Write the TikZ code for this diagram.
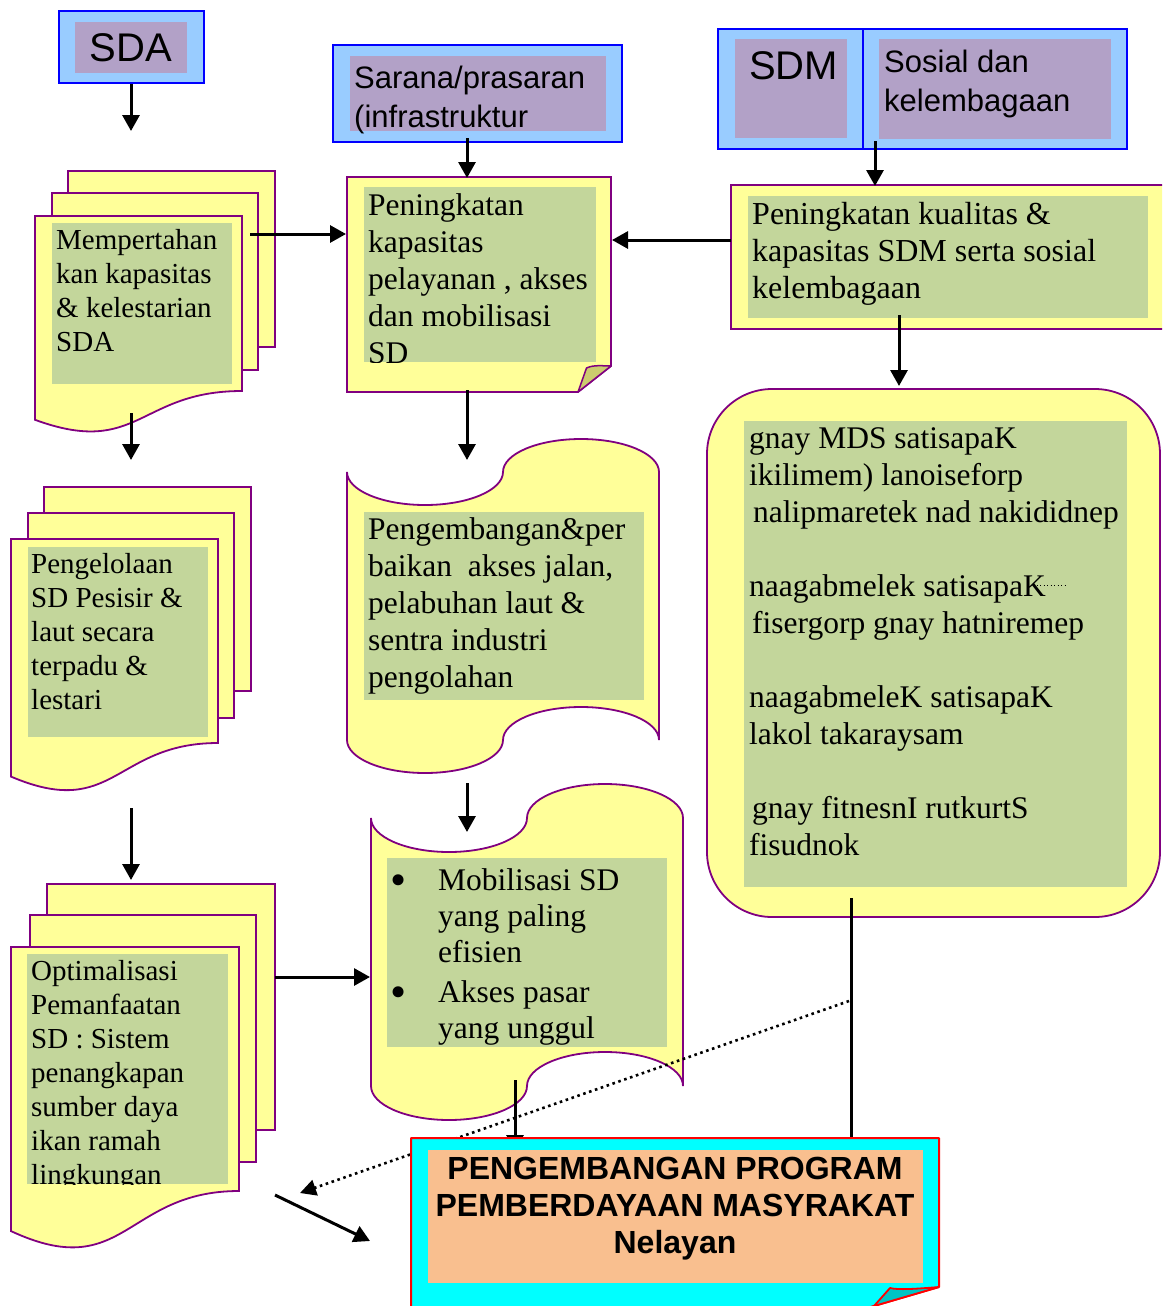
\documentclass[tikz,border=0pt]{standalone}
\usepackage{fontspec}
\setmainfont{Liberation Serif}
\newfontfamily\hdrfont{Liberation Sans}
\usetikzlibrary{arrows.meta}
\definecolor{docyellow}{RGB}{255,255,153}
\definecolor{docpurple}{RGB}{128,0,128}
\definecolor{innergreen}{RGB}{195,214,155}
\definecolor{hdrblue}{RGB}{153,204,255}
\definecolor{hdrborder}{RGB}{0,0,255}
\definecolor{hdrpurple}{RGB}{178,161,199}
\definecolor{flapkhaki}{RGB}{204,204,110}
\definecolor{cyanfill}{RGB}{0,255,255}
\definecolor{cyanflap}{RGB}{0,196,196}
\definecolor{orangefill}{RGB}{249,191,143}
\newcommand\tapeshape[6]{%
 \pgfmathsetmacro\tpA{(#3-#2)/4}%
 \pgfmathsetmacro\tpQ{#2+\tpA}%
 \pgfmathsetmacro\tpM{#2+2*\tpA}%
 \pgfmathsetmacro\tpT{#2+3*\tpA}%
 \pgfmathsetmacro\tpKa{0.5523*\tpA}%
 \pgfmathsetmacro\tpKd{0.5523*#6}%
 \path[#1] (#2,#4)
  .. controls (#2,{#4+\tpKd}) and ({\tpQ-\tpKa},{#4+#6}) .. (\tpQ,{#4+#6})
  .. controls ({\tpQ+\tpKa},{#4+#6}) and (\tpM,{#4+\tpKd}) .. (\tpM,#4)
  .. controls (\tpM,{#4-\tpKd}) and ({\tpT-\tpKa},{#4-#6}) .. (\tpT,{#4-#6})
  .. controls ({\tpT+\tpKa},{#4-#6}) and (#3,{#4-\tpKd}) .. (#3,#4)
  -- (#3,#5)
  .. controls (#3,{#5-\tpKd}) and ({\tpT+\tpKa},{#5-#6}) .. (\tpT,{#5-#6})
  .. controls ({\tpT-\tpKa},{#5-#6}) and (\tpM,{#5-\tpKd}) .. (\tpM,#5)
  .. controls (\tpM,{#5+\tpKd}) and ({\tpQ+\tpKa},{#5+#6}) .. (\tpQ,{#5+#6})
  .. controls ({\tpQ-\tpKa},{#5+#6}) and (#2,{#5+\tpKd}) .. (#2,#5)
  -- cycle;%
}
\newcommand\bigbullet{\makebox[48pt][l]{\fontsize{46}{36}\selectfont\raisebox{-5pt}{\textbullet}}}
\tikzset{
 docshape/.style={fill=docyellow, draw=docpurple, line width=1.8pt},
 greenpanel/.style={fill=innergreen},
 hdrbox/.style={fill=hdrblue, draw=hdrborder, line width=2.2pt},
 hdrpanel/.style={fill=hdrpurple},
 conn/.style={line width=3pt, -{Triangle[length=16pt,width=17pt]}},
 plainconn/.style={line width=3pt},
 dotconn/.style={line width=2.6pt, dash pattern=on 2.6pt off 3.6pt, -{Triangle[length=16pt,width=16pt]}},
 hdrtext/.style={inner sep=0pt, anchor=north west, align=left, font=\hdrfont\fontsize{31}{39}\selectfont},
 bigtext/.style={inner sep=0pt, font=\hdrfont\fontsize{40}{45}\selectfont},
 doctext/.style={inner sep=0pt, anchor=north west, align=left, font=\fontsize{29}{34}\selectfont},
 bodytext/.style={inner sep=0pt, anchor=north west, align=left, font=\fontsize{31.5}{37}\selectfont},
 goaltext/.style={inner sep=0pt, anchor=north, align=center, font=\hdrfont\bfseries\fontsize{32}{37}\selectfont},
}
\begin{document}
\begin{tikzpicture}[x=1pt,y=-1pt]
\useasboundingbox (0,0) rectangle (1162,1306);
\clip (0,0) rectangle (1162,1306);

% ---------- header boxes ----------
\path[hdrbox] (59,11) rectangle (204,83);
\path[hdrpanel] (75,22) rectangle (187,73);
\node[bigtext] (sdaText) at (131,47.5) {SDA};

\path[hdrbox] (333,45) rectangle (622,142);
\path[hdrpanel] (350,56) rectangle (606,131);
\node[hdrtext] (saranaText) at (354,65.4) {Sarana/prasaran\\(infrastruktur};

\path[hdrbox] (718,29) rectangle (863,149);
\path[hdrbox] (863,29) rectangle (1127,149);
\path[hdrpanel] (735,39) rectangle (847,138);
\path[hdrpanel] (879,39) rectangle (1111,139);
\node[bigtext, anchor=north west] (sdmText) at (749,51) {SDM};
\node[hdrtext] (sosialText) at (884,49.4) {Sosial dan\\kelembagaan};

% ---------- left document 1 ----------
\path[docshape] (68,171) rectangle (275,347);
\path[docshape] (52,193) rectangle (258,370);
\path[docshape] (35,216) -- (242,216) -- (242,391) .. controls (138.5,391) and (138.5,457.7) .. (35,419.8) -- cycle;
\path[greenpanel] (52,223) rectangle (232,384);
\node[doctext] (doc1Text) at (56,229.2) {Mempertahan\\kan kapasitas\\\& kelestarian\\SDA};

% ---------- centre folded box ----------
\path[docshape] (347,177) -- (611,177) -- (611,366) -- (578,392) -- (347,392) -- cycle;
\path[fill=flapkhaki, draw=docpurple, line width=1.5pt, line join=bevel] (578,392) -- (586.5,368) .. controls (594,364.5) and (603,366) .. (611,366) -- cycle;
\path[greenpanel] (364,187) rectangle (596,362);
\begin{scope}
\clip (364,187) rectangle (596,362);
\node[bodytext] (centerText) at (368,193.5) {Peningkatan\\kapasitas\\pelayanan , akses\\dan mobilisasi\\SD};
\end{scope}

% ---------- right top box ----------
\path[docshape] (731,185) rectangle (1175,329);
\path[greenpanel] (748,196) rectangle (1148,318);
\node[bodytext, font=\fontsize{32}{37}\selectfont] (sdmBoxText) at (752,202) {Peningkatan kualitas \&\\kapasitas SDM serta sosial\\kelembagaan};

% ---------- right rounded box ----------
\path[docshape, rounded corners=65pt] (707,389) rectangle (1160,917);
\path[greenpanel] (744,421) rectangle (1127,887);
\node[bodytext] (mirrorText) at (749,427.7) {gnay MDS satisapaK\\ikilimem) lanoiseforp\\\hspace*{4pt}nalipmaretek nad nakididnep\\[37pt]naagabmelek satisapaK\\\hspace*{3pt}fisergorp gnay hatniremep\\[37pt]naagabmeleK satisapaK\\lakol takaraysam\\[37pt]\hspace*{3pt}gnay fitnesnI rutkurtS\\fisudnok};
\draw[line width=1pt, dash pattern=on 1pt off 2.5pt] (1033,585) -- (1068,585);

% ---------- left document 2 ----------
\path[docshape] (44,487) rectangle (251,691);
\path[docshape] (28,513) rectangle (234,718);
\path[docshape] (11,539) -- (218,539) -- (218,743) .. controls (114.5,743) and (114.5,820.7) .. (11,776.6) -- cycle;
\path[greenpanel] (28,547) rectangle (208,737);
\node[doctext] (doc2Text) at (31,553) {Pengelolaan\\SD Pesisir \&\\laut secara\\terpadu \&\\lestari};

% ---------- tape 1 ----------
\tapeshape{docshape}{347}{659}{472}{740}{33}
\path[greenpanel] (364,512) rectangle (644,700);
\node[bodytext] (tape1Text) at (368,517.5) {Pengembangan\&per\\baikan\ \ akses jalan,\\pelabuhan laut \&\\sentra industri\\pengolahan};

% ---------- left document 3 ----------
\path[docshape] (47,884) rectangle (275,1130);
\path[docshape] (30,915) rectangle (256,1162);
\path[docshape] (11,947) -- (239,947) -- (239,1191) .. controls (125,1191) and (125,1284) .. (11,1231.1) -- cycle;
\path[greenpanel] (27,954) rectangle (228,1184);
\begin{scope}
\clip (27,954) rectangle (228,1184);
\node[doctext] (doc3Text) at (31,960.2) {Optimalisasi\\Pemanfaatan\\SD : Sistem\\penangkapan\\sumber daya\\ikan ramah\\lingkungan};
\end{scope}

% ---------- tape 2 ----------
\tapeshape{docshape}{371}{683}{818}{1086}{34}
\path[greenpanel] (387,858) rectangle (667,1047);
\node[bodytext, font=\fontsize{31.5}{36}\selectfont] (tape2Text) at (390,868.5) {\bigbullet Mobilisasi SD\\\hspace*{48pt}yang paling\\\hspace*{48pt}efisien\\[4pt]\bigbullet Akses pasar\\\hspace*{48pt}yang unggul};

% ---------- connectors ----------
\coordinate (sdaOut) at (131,84);      \coordinate (doc1In) at (131,131);
\coordinate (saranaOut) at (467,138);  \coordinate (centerIn) at (467,178);
\coordinate (sdmOut) at (875,141);     \coordinate (sdmBoxIn) at (875,186);
\coordinate (doc1Out) at (250,234);    \coordinate (centerLeft) at (346,234);
\coordinate (sdmBoxOut) at (731,240);  \coordinate (centerRight) at (612,240);
\coordinate (sdmBoxDown) at (899,315); \coordinate (mirrorIn) at (899,386);
\coordinate (doc1Down) at (131,413);   \coordinate (doc2In) at (131,460);
\coordinate (centerDown) at (467,390); \coordinate (tape1In) at (467,460);
\coordinate (doc2Down) at (131,808);   \coordinate (doc3In) at (131,880);
\coordinate (tape1Down) at (467,783);  \coordinate (tape2In) at (467,832);
\coordinate (doc3Out) at (275,977);    \coordinate (tape2Left) at (370,977);
\coordinate (doc3Low) at (275,1195);   \coordinate (goalNear) at (370,1241);
\coordinate (tape2Down) at (515,1080); \coordinate (goalTop) at (515,1151);
\coordinate (mirrorDown) at (851,898); \coordinate (goalTopR) at (851,1140);
\coordinate (dotStart) at (849,1001);  \coordinate (dotEnd) at (300,1193);

\draw[conn] (sdaOut) -- (doc1In);
\draw[conn] (saranaOut) -- (centerIn);
\draw[conn] (sdmOut) -- (sdmBoxIn);
\draw[conn] (doc1Out) -- (centerLeft);
\draw[conn] (sdmBoxOut) -- (centerRight);
\draw[conn] (sdmBoxDown) -- (mirrorIn);
\draw[conn] (doc1Down) -- (doc2In);
\draw[conn] (centerDown) -- (tape1In);
\draw[conn] (doc2Down) -- (doc3In);
\draw[conn] (tape1Down) -- (tape2In);
\draw[conn] (doc3Out) -- (tape2Left);
\draw[conn] (doc3Low) -- (goalNear);
\draw[conn] (tape2Down) -- (goalTop);
\draw[plainconn] (mirrorDown) -- (goalTopR);
\draw[dotconn] (dotStart) -- (dotEnd);

% ---------- goal box ----------
\path[fill=cyanfill, draw=red, line width=2pt, line join=bevel] (411,1138) -- (939,1138) -- (939,1287) -- (843,1315) -- (411,1315) -- cycle;
\path[fill=cyanflap, draw=red, line width=1.8pt, line join=bevel] (874,1306) -- (890,1288) .. controls (898,1290) and (915,1289) .. (939,1287) -- cycle;
\path[fill=orangefill] (428,1150) rectangle (923,1283);
\node[goaltext] (goalText) at (675,1157) {PENGEMBANGAN PROGRAM\\PEMBERDAYAAN MASYRAKAT\\Nelayan};
\end{tikzpicture}
\end{document}
